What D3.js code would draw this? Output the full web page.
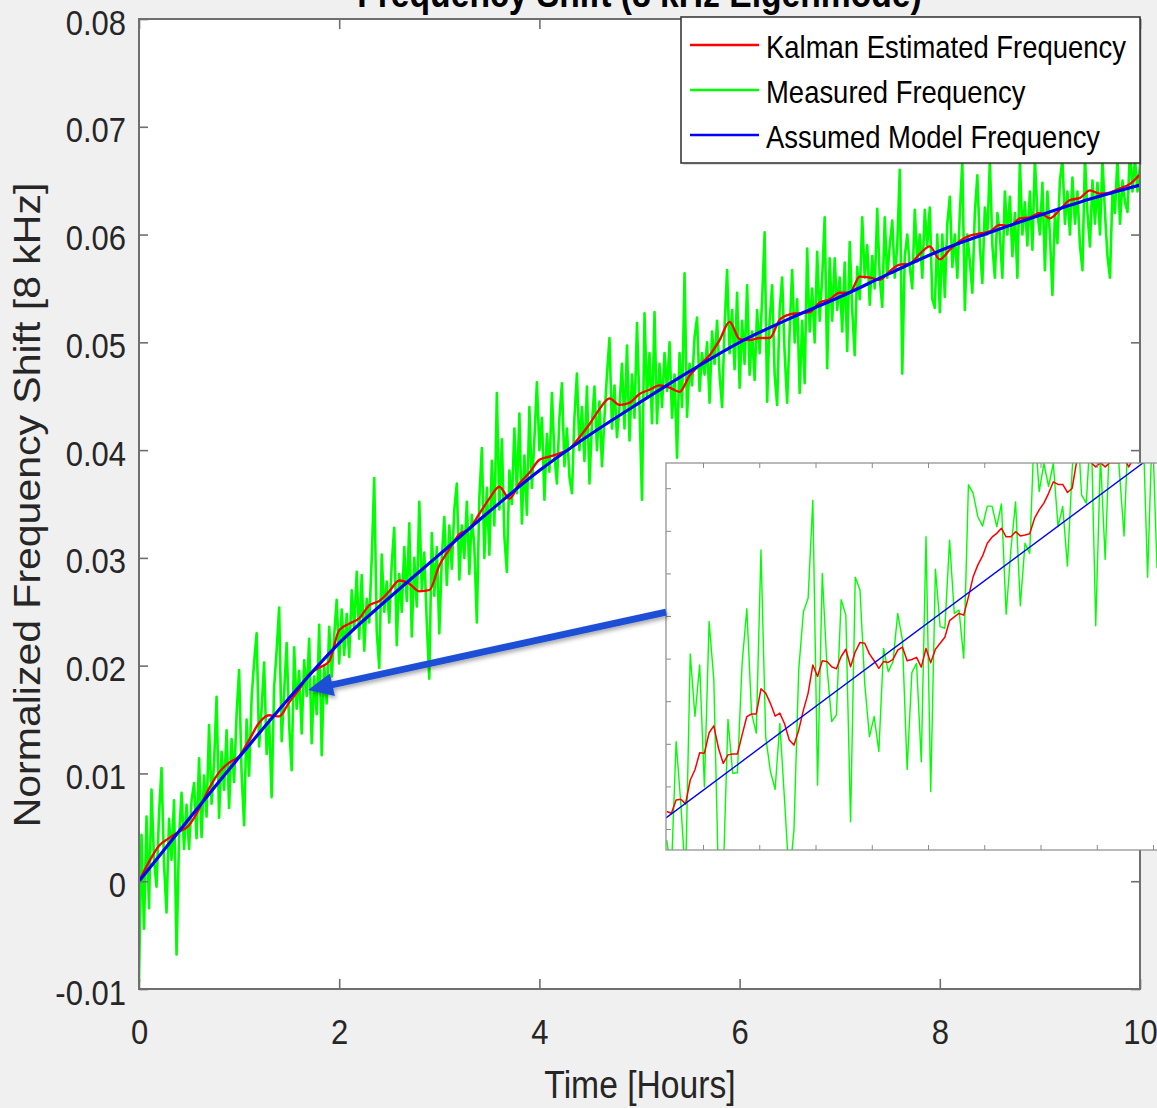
<!DOCTYPE html>
<html><head><meta charset="utf-8">
<script src="https://cdn.jsdelivr.net/npm/d3@7"></script>
<style>
body{margin:0;background:#f0f0f0;}
svg{display:block;font-family:"Liberation Sans",Arial,Helvetica,sans-serif;}
</style>
</head><body>
<svg id="c" width="1157" height="1108"></svg>
<script>
// ---------------- DATA ----------------
const titleText = "Frequency Shift (8 kHz Eigenmode)";
const xLabelText = "Time [Hours]";
const yLabelText = "Normalized Frequency Shift [8 kHz]";
const legendLabels = ["Kalman Estimated Frequency", "Measured Frequency", "Assumed Model Frequency"];

const xTicks = [0, 2, 4, 6, 8, 10];
const xTickLabels = ["0", "2", "4", "6", "8", "10"];
const yTicks = [-0.01, 0, 0.01, 0.02, 0.03, 0.04, 0.05, 0.06, 0.07, 0.08];
const yTickLabels = ["-0.01", "0", "0.01", "0.02", "0.03", "0.04", "0.05", "0.06", "0.07", "0.08"];

// measured frequency, sampled every 0.025 h from t = 0
const measuredStart = 0, measuredStep = 0.025;
const measured = [
-0.0093,0.0043,-0.0044,0.0060,-0.0025,0.0085,0.0020,-0.0005,0.0062,0.0105,0.0015,-0.0029,0.0058,0.0020,0.0075,-0.0068,0.0040,0.0082,0.0030,0.0071,
0.0030,0.0075,0.0091,0.0040,0.0114,0.0041,0.0098,0.0060,0.0145,0.0072,0.0110,0.0171,0.0059,0.0120,0.0085,0.0140,0.0068,0.0132,0.0092,0.0155,
0.0196,0.0100,0.0052,0.0150,0.0098,0.0170,0.0203,0.0230,0.0125,0.0160,0.0203,0.0118,0.0150,0.0078,0.0180,0.0214,0.0254,0.0130,0.0175,0.0221,
0.0145,0.0103,0.0217,0.0160,0.0195,0.0137,0.0205,0.0172,0.0225,0.0128,0.0190,0.0155,0.0238,0.0117,0.0200,0.0165,0.0236,0.0190,0.0228,0.0261,
0.0202,0.0252,0.0210,0.0248,0.0208,0.0270,0.0235,0.0287,0.0225,0.0284,0.0214,0.0262,0.0240,0.0300,0.0374,0.0232,0.0198,0.0303,0.0250,0.0278,
0.0240,0.0295,0.0328,0.0219,0.0285,0.0250,0.0310,0.0260,0.0332,0.0227,0.0300,0.0255,0.0352,0.0270,0.0305,0.0240,0.0188,0.0323,0.0265,0.0310,
0.0230,0.0300,0.0338,0.0275,0.0330,0.0290,0.0345,0.0369,0.0280,0.0330,0.0300,0.0352,0.0285,0.0340,0.0310,0.0240,0.0355,0.0402,0.0300,0.0365,
0.0303,0.0390,0.0330,0.0453,0.0345,0.0410,0.0320,0.0287,0.0381,0.0350,0.0420,0.0360,0.0434,0.0332,0.0395,0.0340,0.0440,0.0365,0.0410,0.0463,
0.0400,0.0430,0.0354,0.0415,0.0380,0.0453,0.0395,0.0369,0.0430,0.0462,0.0385,0.0420,0.0375,0.0360,0.0430,0.0471,0.0400,0.0440,0.0390,0.0459,
0.0369,0.0425,0.0459,0.0400,0.0445,0.0385,0.0430,0.0470,0.0504,0.0420,0.0460,0.0412,0.0440,0.0480,0.0420,0.0497,0.0409,0.0470,0.0430,0.0518,
0.0440,0.0354,0.0527,0.0450,0.0490,0.0425,0.0528,0.0425,0.0480,0.0440,0.0490,0.0455,0.0500,0.0430,0.0470,0.0393,0.0490,0.0440,0.0564,0.0431,
0.0480,0.0460,0.0505,0.0523,0.0455,0.0490,0.0470,0.0500,0.0444,0.0510,0.0480,0.0520,0.0470,0.0440,0.0515,0.0567,0.0490,0.0530,0.0475,0.0546,
0.0458,0.0520,0.0480,0.0553,0.0470,0.0510,0.0465,0.0530,0.0490,0.0540,0.0602,0.0445,0.0520,0.0553,0.0470,0.0442,0.0530,0.0560,0.0490,0.0444,
0.0510,0.0567,0.0500,0.0540,0.0453,0.0520,0.0462,0.0587,0.0510,0.0550,0.0500,0.0584,0.0520,0.0560,0.0616,0.0476,0.0578,0.0520,0.0578,0.0530,
0.0560,0.0510,0.0574,0.0492,0.0593,0.0530,0.0488,0.0570,0.0540,0.0616,0.0560,0.0590,0.0535,0.0580,0.0550,0.0624,0.0560,0.0533,0.0616,0.0560,
0.0590,0.0613,0.0560,0.0590,0.0660,0.0471,0.0580,0.0600,0.0570,0.0550,0.0623,0.0575,0.0600,0.0560,0.0623,0.0590,0.0625,0.0540,0.0532,0.0600,
0.0528,0.0600,0.0542,0.0610,0.0635,0.0570,0.0600,0.0560,0.0620,0.0668,0.0530,0.0600,0.0575,0.0546,0.0620,0.0655,0.0590,0.0555,0.0625,0.0600,
0.0668,0.0590,0.0560,0.0620,0.0600,0.0560,0.0640,0.0600,0.0635,0.0580,0.0620,0.0560,0.0668,0.0600,0.0630,0.0590,0.0640,0.0586,0.0670,0.0620,
0.0600,0.0648,0.0567,0.0640,0.0600,0.0544,0.0620,0.0592,0.0650,0.0670,0.0610,0.0640,0.0600,0.0653,0.0610,0.0640,0.0590,0.0567,0.0672,0.0620,
0.0589,0.0650,0.0610,0.0648,0.0600,0.0670,0.0620,0.0580,0.0560,0.0640,0.0620,0.0672,0.0610,0.0650,0.0630,0.0621,0.0680,0.0640,0.0670,0.0640,
0.0665
];

// Kalman estimate, every 0.1 h from t = 0
const kalmanStart = 0, kalmanStep = 0.1;
const kalman = [
0.0000,0.0018,0.0033,0.0040,0.0046,0.0052,0.0067,0.0086,0.0101,0.0110,
0.0116,0.0131,0.0147,0.0154,0.0153,0.0166,0.0178,0.0192,0.0198,0.0204,
0.0233,0.0239,0.0244,0.0256,0.0260,0.0269,0.0279,0.0276,0.0269,0.0270,
0.0293,0.0308,0.0322,0.0327,0.0341,0.0355,0.0366,0.0355,0.0369,0.0379,
0.0391,0.0394,0.0397,0.0401,0.0412,0.0424,0.0438,0.0448,0.0442,0.0444,
0.0452,0.0456,0.0460,0.0458,0.0454,0.0469,0.0479,0.0488,0.0502,0.0519,
0.0503,0.0502,0.0504,0.0504,0.0521,0.0526,0.0527,0.0528,0.0537,0.0540,
0.0546,0.0546,0.0561,0.0560,0.0558,0.0566,0.0572,0.0573,0.0582,0.0589,
0.0577,0.0586,0.0594,0.0599,0.0601,0.0603,0.0609,0.0608,0.0615,0.0616,
0.0620,0.0615,0.0623,0.0632,0.0634,0.0641,0.0638,0.0639,0.0643,0.0647,
0.0656
];

// assumed model
const modelTimes = [0,0.5,1,1.5,2,2.5,3,3.5,4,4.5,5,5.5,6,6.5,7,7.5,8,8.5,9,9.5,10];
const model = [0,0.0058,0.0115,0.0170,0.0221,0.0263,0.0303,0.0343,0.0381,0.0414,0.0444,0.0473,0.0500,0.0522,0.0542,0.0564,0.0585,0.0602,0.0618,0.0633,0.0646];

// zoomed inset (about 1.23 h .. 2.11 h)
const insetXDomain = [1.2342, 2.1124];
const insetYDomain = [0.013507, 0.022592];
const insetXTicks = [1.3,1.4,1.5,1.6,1.7,1.8,1.9,2.0,2.1];
const insetYTicks = [0.014,0.015,0.016,0.017,0.018,0.019,0.020,0.021,0.022];
const insetStart = 1.2354, insetStep = 0.008382;
const insetMeasured = [
0.01374,0.0130,0.01605,0.01460,0.0128,0.01811,0.01664,0.01785,0.01499,0.01887,
0.01750,0.0127,0.0129,0.01657,0.01531,0.01532,0.01789,0.01917,0.01672,0.01625,
0.02055,0.01617,0.01535,0.01493,0.01648,0.01468,0.0128,0.01398,0.01773,0.01910,
0.01942,0.02172,0.01503,0.02000,0.01781,0.01652,0.01668,0.01938,0.01902,0.01417,
0.01991,0.01961,0.01742,0.01617,0.01664,0.01582,0.01824,0.01769,0.01793,0.01906,
0.01844,0.01540,0.01767,0.01789,0.01558,0.02086,0.01488,0.02010,0.01875,0.01871,
0.02078,0.01906,0.01914,0.01801,0.02208,0.02188,0.02133,0.02111,0.02158,0.02158,
0.02110,0.02163,0.01904,0.02055,0.02168,0.01924,0.02071,0.02047,0.0235,0.02192,
0.02258,0.02204,0.02258,0.02110,0.02157,0.02017,0.02243,0.0238,0.02184,0.02165,
0.0236,0.01877,0.02274,0.02033,0.0234,0.0240,0.02243,0.02088,0.0237,0.0239,
0.02258,0.0236,0.01991,0.0235,0.02012
];
const insetKalman = [
0.01441,0.01437,0.01468,0.01470,0.01459,0.01515,0.01539,0.01579,0.01578,0.01626,
0.01642,0.01589,0.01554,0.01574,0.01576,0.01576,0.01621,0.01664,0.01670,0.01670,
0.01729,0.01719,0.01695,0.01665,0.01672,0.01647,0.01609,0.01597,0.01632,0.01679,
0.01719,0.01785,0.01758,0.01795,0.01793,0.01781,0.01776,0.01805,0.01822,0.01781,
0.01816,0.01838,0.01836,0.01811,0.01795,0.01777,0.01793,0.01791,0.01798,0.01820,
0.01827,0.01795,0.01798,0.01803,0.01780,0.01824,0.01790,0.01822,0.01836,0.01850,
0.01889,0.01898,0.01906,0.01902,0.01945,0.01992,0.02020,0.02041,0.02071,0.02085,
0.02094,0.02106,0.02086,0.02086,0.02098,0.02088,0.02090,0.02093,0.02129,0.02149,
0.02165,0.02188,0.02215,0.02209,0.02209,0.02190,0.02200,0.02266,0.0229,0.0230,
0.0226,0.0225,0.0226,0.0225,0.0226,0.0226,0.0226,0.0227,0.0225,0.0227,
0.0228,0.0228,0.0229,0.0230,0.0231
];
const insetModelTimes = [1.2342, 2.1124];
const insetModel = [0.01426, 0.02289];

// annotation arrow (data coordinates of main axes)
const arrowFrom = [5.265, 0.02497];
const arrowTo = [1.688, 0.01774];

// ---------------- DRAW ----------------
const SX = 0.886;           // horizontal squeeze of the original picture
const W = 1157, H = 1108;
const svg = d3.select("#c");
const defs = svg.append("defs");

const x = d3.scaleLinear().domain([0, 10]).range([139, 1140]);
const y = d3.scaleLinear().domain([-0.01, 0.08]).range([989, 19]);

svg.append("rect").attr("width", W).attr("height", H).attr("fill", "#f0f0f0");

function sText(parent, px, py, str, size, anchor, opts = {}) {
  const g = parent.append("g").attr("transform",
    `translate(${px},${py})` + (opts.rotate ? ` rotate(${opts.rotate}) scale(1,${SX})` : ` scale(${SX},1)`));
  return g.append("text").attr("text-anchor", anchor).attr("font-size", size)
    .attr("font-weight", opts.bold ? "bold" : "normal")
    .attr("fill", opts.fill || "#262626").text(str);
}

// title (mostly cropped by the top edge, as in the original picture)
sText(svg, 639.5, 7, titleText, 38, "middle", { bold: true, fill: "#000" });

// plot area
svg.append("rect").attr("x", 139).attr("y", 19).attr("width", 1001).attr("height", 970).attr("fill", "#fff");

defs.append("clipPath").attr("id", "clipMain").append("rect")
  .attr("x", 139).attr("y", 19).attr("width", 1001).attr("height", 970);

const plot = svg.append("g").attr("clip-path", "url(#clipMain)");

const measPts = measured.map((v, i) => [measuredStart + i * measuredStep, v]);
const kalPts = kalman.map((v, i) => [kalmanStart + i * kalmanStep, v]);
const modPts = model.map((v, i) => [modelTimes[i], v]);

const lineMain = d3.line().x(d => x(d[0])).y(d => y(d[1]));
const lineSmooth = d3.line().x(d => x(d[0])).y(d => y(d[1])).curve(d3.curveMonotoneX);

plot.append("path").attr("d", lineMain(measPts)).attr("fill", "none")
  .attr("stroke", "#00ff00").attr("stroke-width", 2.6).attr("stroke-linejoin", "round");
plot.append("path").attr("d", lineSmooth(kalPts)).attr("fill", "none")
  .attr("stroke", "#ff0000").attr("stroke-width", 2.3).attr("stroke-linejoin", "round");
plot.append("path").attr("d", lineSmooth(modPts)).attr("fill", "none")
  .attr("stroke", "#0000ff").attr("stroke-width", 3.2);

// axes
const AX = "#6f6f6f";
const gx = svg.append("g").attr("transform", "translate(0,989)")
  .call(d3.axisBottom(x).tickValues(xTicks).tickSizeInner(-10).tickSizeOuter(0).tickPadding(0)
    .tickFormat((d, i) => xTickLabels[i]));
const gxt = svg.append("g").attr("transform", "translate(0,19)")
  .call(d3.axisTop(x).tickValues(xTicks).tickSizeInner(-10).tickSizeOuter(0).tickFormat(""));
const gy = svg.append("g").attr("transform", "translate(139,0)")
  .call(d3.axisLeft(y).tickValues(yTicks).tickSizeInner(-9).tickSizeOuter(0).tickPadding(13)
    .tickFormat((d, i) => yTickLabels[i]));
const gyr = svg.append("g").attr("transform", "translate(1140,0)")
  .call(d3.axisRight(y).tickValues(yTicks).tickSizeInner(-9).tickSizeOuter(0).tickFormat(""));

[gx, gxt, gy, gyr].forEach(g => {
  g.select(".domain").remove();
  g.selectAll(".tick line").attr("stroke", AX).attr("stroke-width", 1.6);
  g.selectAll("text").attr("font-family", null).attr("font-size", 35).attr("fill", "#262626");
});
gx.selectAll(".tick text").attr("y", 55).attr("dy", 0).attr("transform", `scale(${SX},1)`);
gy.selectAll(".tick text").attr("x", -13 / SX).attr("dy", 0).attr("y", 15).attr("transform", `scale(${SX},1)`);
gyr.selectAll(".tick text").remove();
gxt.selectAll(".tick text").remove();

svg.append("rect").attr("x", 139).attr("y", 19).attr("width", 1001).attr("height", 970)
  .attr("fill", "none").attr("stroke", AX).attr("stroke-width", 2);

// axis labels
sText(svg, 640, 1098, xLabelText, 38, "middle");
sText(svg, 40, 505, yLabelText, 41, "middle", { rotate: -90 });

// legend
const lg = svg.append("g");
lg.append("rect").attr("x", 683).attr("y", 19).attr("width", 459).attr("height", 146)
  .attr("fill", "#000").attr("opacity", 0.12);
lg.append("rect").attr("x", 681).attr("y", 17).attr("width", 459).attr("height", 146)
  .attr("fill", "#fff").attr("stroke", "#3a3a3a").attr("stroke-width", 1.6);
const legendColors = ["#ff0000", "#00ff00", "#0000ff"];
legendLabels.forEach((lab, i) => {
  const ly = 45 + i * 45;
  lg.append("line").attr("x1", 690).attr("x2", 759).attr("y1", ly).attr("y2", ly)
    .attr("stroke", legendColors[i]).attr("stroke-width", 2.6);
  sText(lg, 766, ly + 13, lab, 31, "start", { fill: "#000" });
});

// inset
const ix = d3.scaleLinear().domain(insetXDomain).range([666, 1160]);
const iy = d3.scaleLinear().domain(insetYDomain).range([850, 463]);
const ig = svg.append("g");
ig.append("rect").attr("x", 666).attr("y", 463).attr("width", 494).attr("height", 387).attr("fill", "#fff");
defs.append("clipPath").attr("id", "clipInset").append("rect")
  .attr("x", 666).attr("y", 463).attr("width", 494).attr("height", 387);
const ip = ig.append("g").attr("clip-path", "url(#clipInset)");
const iLine = d3.line().x(d => ix(d[0])).y(d => iy(d[1]));
ip.append("path").attr("d", iLine(insetMeasured.map((v, i) => [insetStart + i * insetStep, v])))
  .attr("fill", "none").attr("stroke", "#00ff00").attr("stroke-width", 1.4).attr("stroke-linejoin", "round");
ip.append("path").attr("d", iLine(insetKalman.map((v, i) => [insetStart + i * insetStep, v])))
  .attr("fill", "none").attr("stroke", "#ff0000").attr("stroke-width", 1.5).attr("stroke-linejoin", "round");
ip.append("path").attr("d", iLine(insetModel.map((v, i) => [insetModelTimes[i], v])))
  .attr("fill", "none").attr("stroke", "#0000ff").attr("stroke-width", 1.4);

const IAX = "#8a8a8a";
const ib = ig.append("g").attr("transform", "translate(0,850)")
  .call(d3.axisBottom(ix).tickValues(insetXTicks).tickSizeInner(-5).tickSizeOuter(0).tickFormat(""));
const it = ig.append("g").attr("transform", "translate(0,463)")
  .call(d3.axisTop(ix).tickValues(insetXTicks).tickSizeInner(-5).tickSizeOuter(0).tickFormat(""));
const il = ig.append("g").attr("transform", "translate(666,0)")
  .call(d3.axisLeft(iy).tickValues(insetYTicks).tickSizeInner(-5).tickSizeOuter(0).tickFormat(""));
[ib, it, il].forEach(g => {
  g.select(".domain").remove();
  g.selectAll(".tick line").attr("stroke", IAX).attr("stroke-width", 1);
  g.selectAll("text").remove();
});
ig.append("rect").attr("x", 666).attr("y", 463).attr("width", 494).attr("height", 387)
  .attr("fill", "none").attr("stroke", IAX).attr("stroke-width", 1.2);

// arrow
const flt = defs.append("filter").attr("id", "shadow").attr("x", "-10%").attr("y", "-50%")
  .attr("width", "130%").attr("height", "200%");
flt.append("feDropShadow").attr("dx", 1.5).attr("dy", 2.5).attr("stdDeviation", 2)
  .attr("flood-color", "#000").attr("flood-opacity", 0.35);
const p0 = [x(arrowFrom[0]), y(arrowFrom[1])];
const p1 = [x(arrowTo[0]), y(arrowTo[1])];
const dx = p1[0] - p0[0], dy = p1[1] - p0[1];
const len = Math.hypot(dx, dy), ux = dx / len, uy = dy / len;
const headL = 25, headW = 11.5, shaftW = 3.4;
const bx = p1[0] - ux * headL, by = p1[1] - uy * headL;
const nx = -uy, ny = ux;
const arrowPts = [
  [p0[0] + nx * shaftW, p0[1] + ny * shaftW],
  [bx + nx * shaftW, by + ny * shaftW],
  [bx + nx * headW, by + ny * headW],
  p1,
  [bx - nx * headW, by - ny * headW],
  [bx - nx * shaftW, by - ny * shaftW],
  [p0[0] - nx * shaftW, p0[1] - ny * shaftW]
];
svg.append("polygon").attr("points", arrowPts.map(p => p.join(",")).join(" "))
  .attr("fill", "#1d4fd6").attr("filter", "url(#shadow)");
</script>
</body></html>
